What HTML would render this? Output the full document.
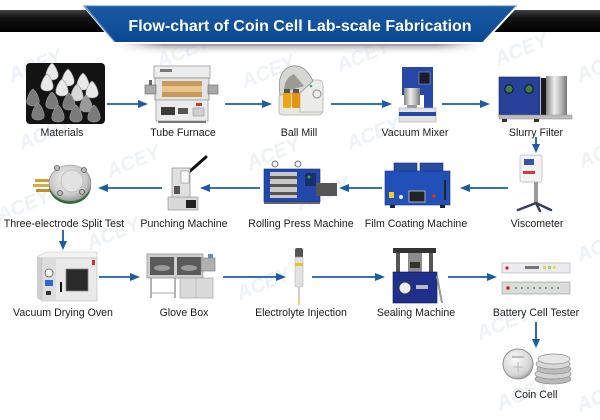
<!DOCTYPE html>
<html><head><meta charset="utf-8"><style>
html,body{margin:0;padding:0;background:#fff;}
svg{display:block}
text{font-family:"Liberation Sans",Arial,sans-serif;}
.l{font-size:10.6px;fill:#1c1c1c;text-anchor:middle}
.w{font-size:20px;font-weight:bold;font-style:italic;fill:#edf2f8;}
</style></head><body>
<svg width="600" height="420" viewBox="0 0 600 420" xmlns="http://www.w3.org/2000/svg">
<defs>
 <linearGradient id="blk" x1="0" y1="0" x2="0" y2="1"><stop offset="0" stop-color="#444"/><stop offset="0.35" stop-color="#121212"/><stop offset="1" stop-color="#000"/></linearGradient>
 <linearGradient id="blu" x1="0" y1="0" x2="0" y2="1"><stop offset="0" stop-color="#1a5aa6"/><stop offset="1" stop-color="#0b4891"/></linearGradient>
 <linearGradient id="shd" x1="0" y1="0" x2="0" y2="1"><stop offset="0" stop-color="#7c7c7c"/><stop offset="1" stop-color="#ffffff" stop-opacity="0"/></linearGradient>
 <linearGradient id="shm" x1="0" y1="0" x2="1" y2="0"><stop offset="0" stop-color="#fff" stop-opacity="0"/><stop offset="0.12" stop-color="#fff" stop-opacity="1"/><stop offset="0.88" stop-color="#fff" stop-opacity="1"/><stop offset="1" stop-color="#fff" stop-opacity="0"/></linearGradient>
 <mask id="shmask"><rect x="120" y="43" width="360" height="14" fill="url(#shm)"/></mask>
 <linearGradient id="steel" x1="0" y1="0" x2="1" y2="0"><stop offset="0" stop-color="#858585"/><stop offset="0.4" stop-color="#eeeeee"/><stop offset="0.7" stop-color="#bdbdbd"/><stop offset="1" stop-color="#767676"/></linearGradient>
 <radialGradient id="disc" cx="0.45" cy="0.4" r="0.62"><stop offset="0" stop-color="#f7f7f7"/><stop offset="0.7" stop-color="#c9c9c9"/><stop offset="1" stop-color="#9a9a9a"/></radialGradient>
 <radialGradient id="coin" cx="0.4" cy="0.35" r="0.7"><stop offset="0" stop-color="#fafafa"/><stop offset="0.75" stop-color="#d4d4d4"/><stop offset="1" stop-color="#9d9d9d"/></radialGradient>
</defs>

<rect width="600" height="420" fill="#fff"/>

<!-- watermarks -->
<g class="wm">
<text class="w" transform="translate(12,82) rotate(-22)">ACEY</text>
<text class="w" transform="translate(160,68) rotate(-22)">ACEY</text>
<text class="w" transform="translate(245,88) rotate(-22)">ACEY</text>
<text class="w" transform="translate(340,72) rotate(-22)">ACEY</text>
<text class="w" transform="translate(498,66) rotate(-22)">ACEY</text>
<text class="w" transform="translate(580,82) rotate(-22)">ACEY</text>
<text class="w" transform="translate(22,150) rotate(-22)">ACEY</text>
<text class="w" transform="translate(350,150) rotate(-22)">ACEY</text>
<text class="w" transform="translate(250,170) rotate(-22)">ACEY</text>
<text class="w" transform="translate(110,178) rotate(-22)">ACEY</text>
<text class="w" transform="translate(0,222) rotate(-22)">ACEY</text>
<text class="w" transform="translate(300,210) rotate(-22)">ACEY</text>
<text class="w" transform="translate(582,168) rotate(-22)">ACEY</text>
<text class="w" transform="translate(90,250) rotate(-22)">ACEY</text>
<text class="w" transform="translate(580,262) rotate(-22)">ACEY</text>
<text class="w" transform="translate(240,300) rotate(-22)">ACEY</text>
<text class="w" transform="translate(480,340) rotate(-22)">ACEY</text>
<text class="w" transform="translate(500,410) rotate(-22)">ACEY</text>
<text class="w" transform="translate(580,412) rotate(-22)">ACEY</text>
</g>

<!-- header -->
<rect x="0" y="10" width="600" height="22" fill="url(#blk)"/>
<rect x="120" y="43" width="360" height="12" fill="url(#shd)" mask="url(#shmask)"/>
<polygon points="83,5 518,5 483,43 115,43" fill="url(#blu)" stroke="#ffffff" stroke-width="2"/>
<polyline points="115,42 84,6 517,6" fill="none" stroke="#4f83c2" stroke-width="1"/>
<text x="300" y="31" text-anchor="middle" style="font-size:16px;font-weight:bold;fill:#fff">Flow-chart of Coin Cell Lab-scale Fabrication</text>

<!-- Materials -->
<rect x="26" y="63" width="79" height="61" rx="4" fill="#131313"/>
<g stroke="#9a9a9a" stroke-width="0.6">
<g fill="#e9e9e9">
<path transform="translate(52,72)" d="M0,-9 C4,-6 7,2 6,5 C4,9 -4,9 -6,5 C-7,2 -4,-6 0,-9Z"/>
<path transform="translate(68,78)" d="M0,-9 C4,-6 7,2 6,5 C4,9 -4,9 -6,5 C-7,2 -4,-6 0,-9Z"/>
<path transform="translate(83,82)" d="M0,-9 C4,-6 7,2 6,5 C4,9 -4,9 -6,5 C-7,2 -4,-6 0,-9Z"/>
<path transform="translate(47,83)" d="M0,-9 C4,-6 7,2 6,5 C4,9 -4,9 -6,5 C-7,2 -4,-6 0,-9Z"/>
<path transform="translate(62,88)" d="M0,-9 C4,-6 7,2 6,5 C4,9 -4,9 -6,5 C-7,2 -4,-6 0,-9Z"/>
<path transform="translate(92,90)" d="M0,-9 C4,-6 7,2 6,5 C4,9 -4,9 -6,5 C-7,2 -4,-6 0,-9Z"/>
<path transform="translate(77,93)" d="M0,-9 C4,-6 7,2 6,5 C4,9 -4,9 -6,5 C-7,2 -4,-6 0,-9Z" fill="#d8d8d8"/>
</g>
<g fill="#7b7b7b">
<path transform="translate(33,98)" d="M0,-9 C4,-6 7,2 6,5 C4,9 -4,9 -6,5 C-7,2 -4,-6 0,-9Z"/>
<path transform="translate(52,101)" d="M0,-9 C4,-6 7,2 6,5 C4,9 -4,9 -6,5 C-7,2 -4,-6 0,-9Z"/>
<path transform="translate(69,102)" d="M0,-9 C4,-6 7,2 6,5 C4,9 -4,9 -6,5 C-7,2 -4,-6 0,-9Z"/>
<path transform="translate(86,104)" d="M0,-9 C4,-6 7,2 6,5 C4,9 -4,9 -6,5 C-7,2 -4,-6 0,-9Z" fill="#9a9a9a"/>
<path transform="translate(38,112)" d="M0,-9 C4,-6 7,2 6,5 C4,9 -4,9 -6,5 C-7,2 -4,-6 0,-9Z"/>
<path transform="translate(58,114)" d="M0,-9 C4,-6 7,2 6,5 C4,9 -4,9 -6,5 C-7,2 -4,-6 0,-9Z"/>
<path transform="translate(76,114)" d="M0,-9 C4,-6 7,2 6,5 C4,9 -4,9 -6,5 C-7,2 -4,-6 0,-9Z"/>
<path transform="translate(94,114)" d="M0,-9 C4,-6 7,2 6,5 C4,9 -4,9 -6,5 C-7,2 -4,-6 0,-9Z"/>
</g>
</g>

<!-- Tube Furnace -->
<rect x="154" y="66" width="56" height="12" fill="#ececec" stroke="#9c9c9c" stroke-width="0.8"/>
<rect x="160" y="69" width="12" height="3" fill="#777"/>
<rect x="155" y="78" width="54" height="22" fill="#e4e4e4" stroke="#8c8c8c" stroke-width="0.8"/>
<rect x="162" y="81" width="40" height="16" fill="#c79a5c"/>
<rect x="162" y="86" width="40" height="6" fill="#e6c48c"/>
<rect x="145" y="85" width="11" height="9" fill="#a9a9a9" stroke="#666" stroke-width="0.6"/>
<rect x="208" y="85" width="10" height="9" fill="#a9a9a9" stroke="#666" stroke-width="0.6"/>
<rect x="149" y="80" width="3" height="5" fill="#666"/>
<rect x="156" y="100" width="52" height="21" fill="#ebebeb" stroke="#a0a0a0" stroke-width="0.8"/>
<rect x="161" y="107" width="14" height="8" fill="#3a3a3a"/>
<rect x="178" y="108" width="10" height="6" fill="#555"/>
<rect x="196" y="103" width="6" height="3" fill="#d04020"/>
<rect x="193" y="108" width="11" height="8" fill="#cfcfcf" stroke="#888" stroke-width="0.5"/>
<rect x="158" y="121" width="48" height="2" fill="#777"/>

<!-- Ball Mill -->
<path d="M279,112 L279,98 Q279,93 284,93 L322,93 L322,112 Q322,115 318,115 L283,115 Q279,115 279,112Z" fill="#e6e6e2" stroke="#b0b0ab" stroke-width="0.8"/>
<path d="M300,80 L318,80 Q323,80 323,86 L323,112 L300,112Z" fill="#ececea" stroke="#b0b0ab" stroke-width="0.8"/>
<path d="M280,95 Q276,70 292,66 Q305,64 313,81 L300,93 Z" fill="#d6d6d3" stroke="#909090" stroke-width="0.8"/>
<path d="M284,92 Q284,78 294,74 L304,86Z" fill="#9a9a96"/>
<circle cx="317" cy="94" r="4" fill="none" stroke="#8a8a8a"/>
<circle cx="311" cy="86" r="1.3" fill="#2ab0a0"/>
<rect x="283" y="92" width="8" height="16" rx="1.5" fill="#f0a516"/>
<rect x="292" y="92" width="8" height="16" rx="1.5" fill="#e4960c"/>
<rect x="284" y="89" width="6" height="4" fill="#555"/>
<rect x="293" y="89" width="6" height="4" fill="#555"/>

<!-- Vacuum Mixer -->
<rect x="402" y="67" width="31" height="28" fill="#2848a8"/>
<rect x="419" y="72" width="11" height="12" fill="#1b1b2a" stroke="#8fa0d0" stroke-width="0.6"/>
<rect x="424" y="95" width="9" height="15" fill="#2848a8"/>
<rect x="404" y="88" width="16" height="17" fill="url(#steel)"/>
<rect x="407" y="105" width="10" height="4" fill="#999"/>
<rect x="399" y="108" width="37" height="14" fill="#e3e3e3" stroke="#aaa" stroke-width="0.6"/>
<rect x="399" y="112" width="37" height="4" fill="#2848a8"/>

<!-- Slurry Filter -->
<rect x="499" y="77" width="41" height="39" fill="#27409a" stroke="#1a2a6a" stroke-width="0.6"/>
<circle cx="509" cy="89" r="4.2" fill="#3f7a4c" stroke="#111" stroke-width="1"/>
<circle cx="529" cy="89" r="4.2" fill="#3f7a4c" stroke="#111" stroke-width="1"/>
<rect x="541" y="78" width="6" height="38" fill="#1a1a1a"/>
<rect x="546" y="76" width="21" height="41" fill="url(#steel)"/>
<rect x="499" y="115" width="73" height="4" fill="#bdbdbd" stroke="#888" stroke-width="0.5"/>
<rect x="502" y="119" width="5" height="3" fill="#333"/>
<rect x="534" y="119" width="5" height="3" fill="#333"/>

<!-- Three-electrode -->
<rect x="35" y="179" width="16" height="3" fill="#c9a33a"/>
<rect x="33" y="184" width="18" height="3" fill="#d2ad45"/>
<rect x="36" y="189" width="15" height="3" fill="#b8922c"/>
<ellipse cx="70" cy="186" rx="21" ry="18" fill="#2e6a3a"/>
<ellipse cx="70" cy="183" rx="21" ry="18" fill="url(#disc)" stroke="#8a8a8a" stroke-width="0.6"/>
<circle cx="72" cy="181" r="11" fill="#e2e2e2" stroke="#aaa" stroke-width="0.6"/>
<g fill="#bbb" stroke="#555" stroke-width="0.8">
<circle cx="57" cy="168" r="2.5"/><circle cx="84" cy="170" r="2.5"/>
<circle cx="60" cy="193" r="2.5"/><circle cx="82" cy="192" r="2.5"/>
</g>

<!-- Punching Machine -->
<line x1="189" y1="172" x2="206" y2="157" stroke="#111" stroke-width="3" stroke-linecap="round"/>
<rect x="172" y="168" width="18" height="30" fill="#e0e0e0" stroke="#8a8a8a" stroke-width="0.7"/>
<rect x="181" y="171" width="8" height="12" fill="#fafafa" stroke="#777" stroke-width="0.5"/>
<rect x="174" y="186" width="6" height="8" fill="#555"/>
<rect x="168" y="197" width="30" height="13" fill="#d8d8d8" stroke="#888" stroke-width="0.6"/>
<rect x="186" y="200" width="10" height="8" fill="#222"/>

<!-- Rolling Press -->
<circle cx="275" cy="164" r="3" fill="#f0f0f0" stroke="#555" stroke-width="0.8"/>
<circle cx="298" cy="164" r="3" fill="#f0f0f0" stroke="#555" stroke-width="0.8"/>
<rect x="264" y="169" width="56" height="33" fill="#2347ad" stroke="#15307a" stroke-width="0.6"/>
<rect x="270" y="172" width="27" height="26" fill="#c8c8c8"/>
<rect x="270" y="176" width="27" height="3" fill="#555"/>
<rect x="270" y="184" width="27" height="3" fill="#555"/>
<rect x="270" y="192" width="27" height="3" fill="#555"/>
<rect x="305" y="173" width="11" height="13" fill="#1a2f6a"/>
<circle cx="309" cy="177" r="1.5" fill="#30b040"/>
<rect x="316" y="183" width="21" height="13" fill="#555"/>
<rect x="264" y="202" width="56" height="2" fill="#666"/>

<!-- Film Coating -->
<rect x="394" y="163" width="23" height="9" fill="#2b4ca0" stroke="#1b2f70" stroke-width="0.6"/>
<rect x="420" y="163" width="23" height="9" fill="#2b4ca0" stroke="#1b2f70" stroke-width="0.6"/>
<rect x="385" y="171" width="65" height="34" fill="#2150b9" stroke="#17357e" stroke-width="0.6"/>
<rect x="409" y="191" width="16" height="11" fill="#222" stroke="#ccc" stroke-width="0.8"/>
<rect x="389" y="192" width="5" height="6" fill="#f0d020"/>
<circle cx="401" cy="197" r="2" fill="#eee"/>
<circle cx="434" cy="196" r="1.8" fill="#e03020"/>
<line x1="445" y1="180" x2="445" y2="200" stroke="#222" stroke-width="2"/>
<rect x="390" y="205" width="5" height="3" fill="#222"/>
<rect x="440" y="205" width="5" height="3" fill="#222"/>

<!-- Viscometer -->
<rect x="520" y="155" width="22" height="27" rx="2" fill="#f3f3f3" stroke="#b8b8b8" stroke-width="0.7"/>
<rect x="524" y="159" width="10" height="6" fill="#3456a8"/>
<rect x="523" y="171" width="12" height="3" fill="#d43a3a"/>
<rect x="534" y="182" width="4" height="22" fill="#9a9a9a"/>
<path d="M536,203 L518,210 M536,203 L551,210 M536,203 L540,211" stroke="#33425a" stroke-width="2.5" fill="none" stroke-linecap="round"/>

<!-- Vacuum Drying Oven -->
<polygon points="37,257 46,252 97,252 97,258 42,258" fill="#f3f3f3" stroke="#c4c4c4" stroke-width="0.6"/>
<polygon points="37,257 42,258 42,301 37,298" fill="#cfcfcf"/>
<rect x="42" y="258" width="55" height="43" fill="#e9e9e9" stroke="#b9b9b9" stroke-width="0.6"/>
<rect x="43" y="259" width="13" height="41" fill="#dddddd"/>
<circle cx="49" cy="273" r="4" fill="#fff" stroke="#555" stroke-width="0.8"/>
<rect x="45" y="280" width="8" height="6" fill="#2a6bd0"/>
<rect x="46" y="291" width="5" height="4" fill="#333"/>
<rect x="66" y="269" width="22" height="22" fill="#2a2a2a" stroke="#888" stroke-width="0.8"/>
<rect x="60" y="282" width="2" height="10" fill="#111"/>
<rect x="92" y="260" width="3" height="5" fill="#d03030"/>

<!-- Glove Box -->
<rect x="147" y="254" width="56" height="24" fill="#cfcfcf" stroke="#8a8a8a" stroke-width="0.7"/>
<rect x="150" y="257" width="24" height="18" fill="#5a5a5a"/>
<rect x="177" y="257" width="24" height="18" fill="#5a5a5a"/>
<ellipse cx="162" cy="268" rx="8" ry="3" fill="#9a9a9a"/>
<ellipse cx="189" cy="268" rx="8" ry="3" fill="#9a9a9a"/>
<rect x="201" y="258" width="14" height="13" fill="#b0b0b0" stroke="#777" stroke-width="0.6"/>
<rect x="208" y="254" width="5" height="4" fill="#6a8ab0"/>
<line x1="151" y1="278" x2="151" y2="298" stroke="#999" stroke-width="1.5"/>
<line x1="175" y1="278" x2="175" y2="298" stroke="#999" stroke-width="1.5"/>
<line x1="151" y1="293" x2="175" y2="293" stroke="#aaa" stroke-width="1"/>
<rect x="180" y="278" width="33" height="20" fill="#dadada" stroke="#999" stroke-width="0.6"/>
<line x1="196" y1="278" x2="196" y2="298" stroke="#aaa" stroke-width="0.6"/>

<!-- Pipette -->
<rect x="295" y="248" width="8" height="10" rx="2" fill="#555"/>
<rect x="295" y="257" width="8" height="30" rx="1.5" fill="#e2e2e2" stroke="#aaa" stroke-width="0.5"/>
<rect x="295" y="263" width="8" height="3" fill="#f0c020"/>
<line x1="299" y1="287" x2="299" y2="305" stroke="#cfcfcf" stroke-width="2"/>
<line x1="299" y1="299" x2="299" y2="305" stroke="#f0d060" stroke-width="1.5"/>

<!-- Sealing Machine -->
<rect x="393" y="248" width="43" height="5" fill="#333"/>
<rect x="396" y="253" width="4" height="20" fill="#555"/>
<rect x="429" y="253" width="4" height="20" fill="#555"/>
<rect x="408" y="253" width="14" height="20" fill="#8c8c8c"/>
<rect x="410" y="262" width="10" height="6" fill="#333"/>
<rect x="393" y="272" width="44" height="31" fill="#1f2f8c" stroke="#111a55" stroke-width="0.6"/>
<circle cx="405" cy="288" r="6" fill="#eee" stroke="#333" stroke-width="1"/>
<rect x="416" y="285" width="12" height="4" fill="#bbb"/>
<line x1="437" y1="276" x2="442" y2="303" stroke="#999" stroke-width="2"/>

<!-- Battery Cell Tester -->
<rect x="502" y="263" width="68" height="10" fill="#ebebf0" stroke="#a8a8b0" stroke-width="0.6"/>
<circle cx="507" cy="268" r="1.6" fill="#d02020"/>
<rect x="525" y="266" width="14" height="3" fill="#777"/>
<rect x="543" y="266" width="3" height="3" fill="#e8d040"/>
<rect x="548" y="266" width="3" height="3" fill="#a0d060"/>
<rect x="553" y="266" width="3" height="3" fill="#e8e060"/>
<rect x="502" y="282" width="68" height="12" fill="#d9ddd9" stroke="#999" stroke-width="0.6"/>
<circle cx="508" cy="288" r="1.8" fill="#d02020"/>
<g fill="#777"><circle cx="516" cy="288" r="1"/><circle cx="522" cy="288" r="1"/><circle cx="528" cy="288" r="1"/><circle cx="534" cy="288" r="1"/><circle cx="540" cy="288" r="1"/><circle cx="546" cy="288" r="1"/><circle cx="552" cy="288" r="1"/><circle cx="558" cy="288" r="1"/></g>

<!-- Coin Cell -->
<g stroke="#8a8a8a" stroke-width="0.7">
<ellipse cx="553" cy="379" rx="18" ry="5" fill="#b8b8b8"/>
<ellipse cx="553" cy="374" rx="18" ry="5" fill="#d2d2d2"/>
<ellipse cx="554" cy="369" rx="17" ry="5" fill="#bcbcbc"/>
<ellipse cx="553" cy="364" rx="17" ry="5" fill="#d8d8d8"/>
<ellipse cx="554" cy="359" rx="16" ry="5" fill="#e6e6e6"/>
</g>
<circle cx="518" cy="364" r="15" fill="url(#coin)" stroke="#8f8f8f" stroke-width="1"/>
<path d="M518,362 V372 M513,367 H523" stroke="#aaa" stroke-width="0.8"/>
<rect x="512" y="356" width="12" height="2" fill="#bbb"/>

<!-- Arrows -->
<g stroke="#1c5ba6" stroke-width="1.8" fill="none">
<line x1="107" y1="104" x2="140" y2="104"/>
<line x1="225" y1="104" x2="264" y2="104"/>
<line x1="331" y1="104" x2="384" y2="104"/>
<line x1="442" y1="104" x2="482" y2="104"/>
<line x1="536" y1="137" x2="536" y2="146"/>
<line x1="508" y1="188" x2="468" y2="188"/>
<line x1="382" y1="188" x2="347" y2="188"/>
<line x1="260" y1="188" x2="208" y2="188"/>
<line x1="162" y1="188" x2="106" y2="188"/>
<line x1="63" y1="230" x2="63" y2="243"/>
<line x1="99" y1="277" x2="132" y2="277"/>
<line x1="223" y1="277" x2="278" y2="277"/>
<line x1="312" y1="277" x2="377" y2="277"/>
<line x1="448" y1="277" x2="489" y2="277"/>
<line x1="536" y1="322" x2="536" y2="341"/>
</g>
<g fill="#1c5ba6">
<polygon points="138,100 148,104 138,108"/>
<polygon points="262,100 272,104 262,108"/>
<polygon points="382,100 392,104 382,108"/>
<polygon points="480,100 490,104 480,108"/>
<polygon points="532,144 536,153 540,144"/>
<polygon points="470,184 460,188 470,192"/>
<polygon points="349,184 339,188 349,192"/>
<polygon points="210,184 200,188 210,192"/>
<polygon points="108,184 98,188 108,192"/>
<polygon points="59,241 63,250 67,241"/>
<polygon points="130,273 140,277 130,281"/>
<polygon points="276,273 286,277 276,281"/>
<polygon points="375,273 385,277 375,281"/>
<polygon points="487,273 497,277 487,281"/>
<polygon points="532,339 536,348 540,339"/>
</g>

<!-- Labels -->
<text class="l" x="62" y="136">Materials</text>
<text class="l" x="183" y="136">Tube Furnace</text>
<text class="l" x="299" y="136">Ball Mill</text>
<text class="l" x="415" y="136">Vacuum Mixer</text>
<text class="l" x="536" y="136">Slurry Filter</text>

<text class="l" x="64" y="227">Three-electrode Split Test</text>
<text class="l" x="184" y="227">Punching Machine</text>
<text class="l" x="301" y="227">Rolling Press Machine</text>
<text class="l" x="416" y="227">Film Coating Machine</text>
<text class="l" x="537" y="227">Viscometer</text>

<text class="l" x="63" y="316">Vacuum Drying Oven</text>
<text class="l" x="184" y="316">Glove Box</text>
<text class="l" x="301" y="316">Electrolyte Injection</text>
<text class="l" x="416" y="316">Sealing Machine</text>
<text class="l" x="536" y="316">Battery Cell Tester</text>

<text class="l" x="536" y="398">Coin Cell</text>
</svg>
</body></html>
